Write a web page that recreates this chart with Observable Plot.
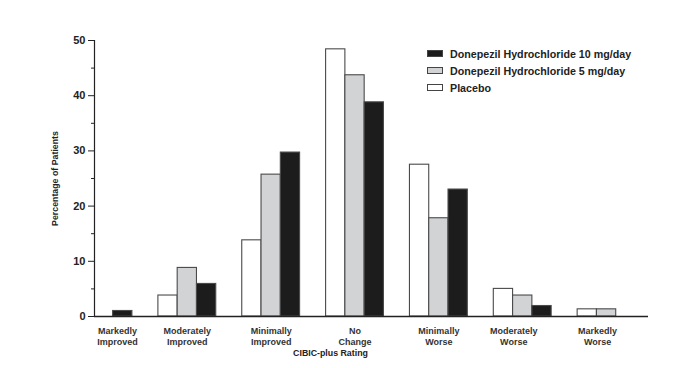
<!DOCTYPE html>
<html>
<head>
<meta charset="utf-8">
<script src="https://cdn.jsdelivr.net/npm/d3@7"></script>
<script src="https://cdn.jsdelivr.net/npm/@observablehq/plot@0.6"></script>
<style>
  html, body { margin: 0; padding: 0; background: #fff; }
  #wrap { position: relative; width: 694px; height: 368px; font-family: "Liberation Sans", Arial, sans-serif; }
  #legend { position: absolute; left: 427px; top: 45px; font-size: 10.7px; font-weight: bold; color: #222; }
  #legend .row { display: flex; align-items: center; height: 17px; }
  #legend .sw { width: 16px; height: 7px; border: 1px solid #444; margin-right: 7px; box-sizing: border-box; }
</style>
</head>
<body>
<div id="wrap"></div>
<script>
// Categories (CIBIC-plus rating)
const categories = ["Markedly\nImproved", "Moderately\nImproved", "Minimally\nImproved", "No\nChange", "Minimally\nWorse", "Moderately\nWorse", "Markedly\nWorse"];
// Series values (percentage of patients)
const placebo = [0, 3.8, 13.8, 48.4, 27.5, 5.0, 1.3];
const mg5 = [0, 8.8, 25.7, 43.7, 17.8, 3.8, 1.3];
const mg10 = [1.0, 5.9, 29.7, 38.8, 23.0, 1.9, 0];
// Series names
const seriesNames = ["Placebo", "Donepezil Hydrochloride 5 mg/day", "Donepezil Hydrochloride 10 mg/day"];
const seriesColors = ["#ffffff", "#d2d3d5", "#1c1c1c"];
// Tick labels
const yTicks = [0, 10, 20, 30, 40, 50];
const yMinorTicks = [5, 15, 25, 35, 45];
const xLabel = "CIBIC-plus Rating";
const yLabel = "Percentage of Patients";

const seriesValues = [placebo, mg5, mg10];
const w = 0.23; // bar width in group units
const rows = [];
seriesValues.forEach((vals, s) => {
  vals.forEach((v, i) => {
    const x1 = i + (s - 1) * w - w / 2;
    rows.push({i, s, name: seriesNames[s], value: v, x1, x2: x1 + w});
  });
});

const font = "'Liberation Sans', Arial, sans-serif";
const catStyle = {tickSize: 0, tickPadding: 9, fontSize: 9, fontWeight: "bold", fill: "#333", lineHeight: 1.25, label: null};
const chart = Plot.plot({
  width: 694,
  height: 368,
  marginLeft: 94,
  marginRight: 46,
  marginTop: 40,
  marginBottom: 52,
  style: {fontFamily: font, color: "#222", background: "#fff", overflow: "visible"},
  x: {type: "linear", domain: [-0.107, 6.5], axis: null},
  y: {domain: [0, 50], axis: null},
  marks: [
    Plot.rectY(rows.filter(d => d.value > 0), {
      x1: "x1", x2: "x2", y1: 0, y2: "value",
      fill: d => seriesColors[d.s], stroke: "#4a4a4a", strokeWidth: 1.1
    }),
    Plot.frame({anchor: "left", stroke: "#222", strokeWidth: 1.2}),
    Plot.ruleY([0], {stroke: "#222", strokeWidth: 1.3}),
    Plot.axisY({ticks: yTicks, tickSize: 6, tickPadding: 3, fontSize: 11, fontWeight: "bold", label: null, stroke: "#222"}),
    Plot.axisY({ticks: yMinorTicks, tickSize: 3, tickFormat: () => "", label: null, stroke: "#222"}),
    Plot.axisX({ticks: [0], tickFormat: i => categories[i], dx: 14, ...catStyle}),
    Plot.axisX({ticks: [1, 2, 3, 4], tickFormat: i => categories[i], ...catStyle}),
    Plot.axisX({ticks: [5, 6], tickFormat: i => categories[i], dx: -9, ...catStyle}),
    Plot.text([xLabel], {frameAnchor: "bottom", dx: -41, dy: 39, fontSize: 8.8, fontWeight: "bold", fill: "#222"}),
    Plot.text([yLabel], {frameAnchor: "left", textAnchor: "middle", dx: -39, rotate: -90, fontSize: 8.8, fontWeight: "bold", fill: "#222"})
  ]
});

const wrap = document.getElementById("wrap");
wrap.appendChild(chart);

// Legend (order as in reference: 10 mg, 5 mg, Placebo)
const legend = document.createElement("div");
legend.id = "legend";
[2, 1, 0].forEach(s => {
  const row = document.createElement("div");
  row.className = "row";
  const sw = document.createElement("div");
  sw.className = "sw";
  sw.style.background = seriesColors[s];
  const t = document.createElement("span");
  t.textContent = seriesNames[s];
  row.appendChild(sw);
  row.appendChild(t);
  legend.appendChild(row);
});
wrap.appendChild(legend);
</script>
</body>
</html>
